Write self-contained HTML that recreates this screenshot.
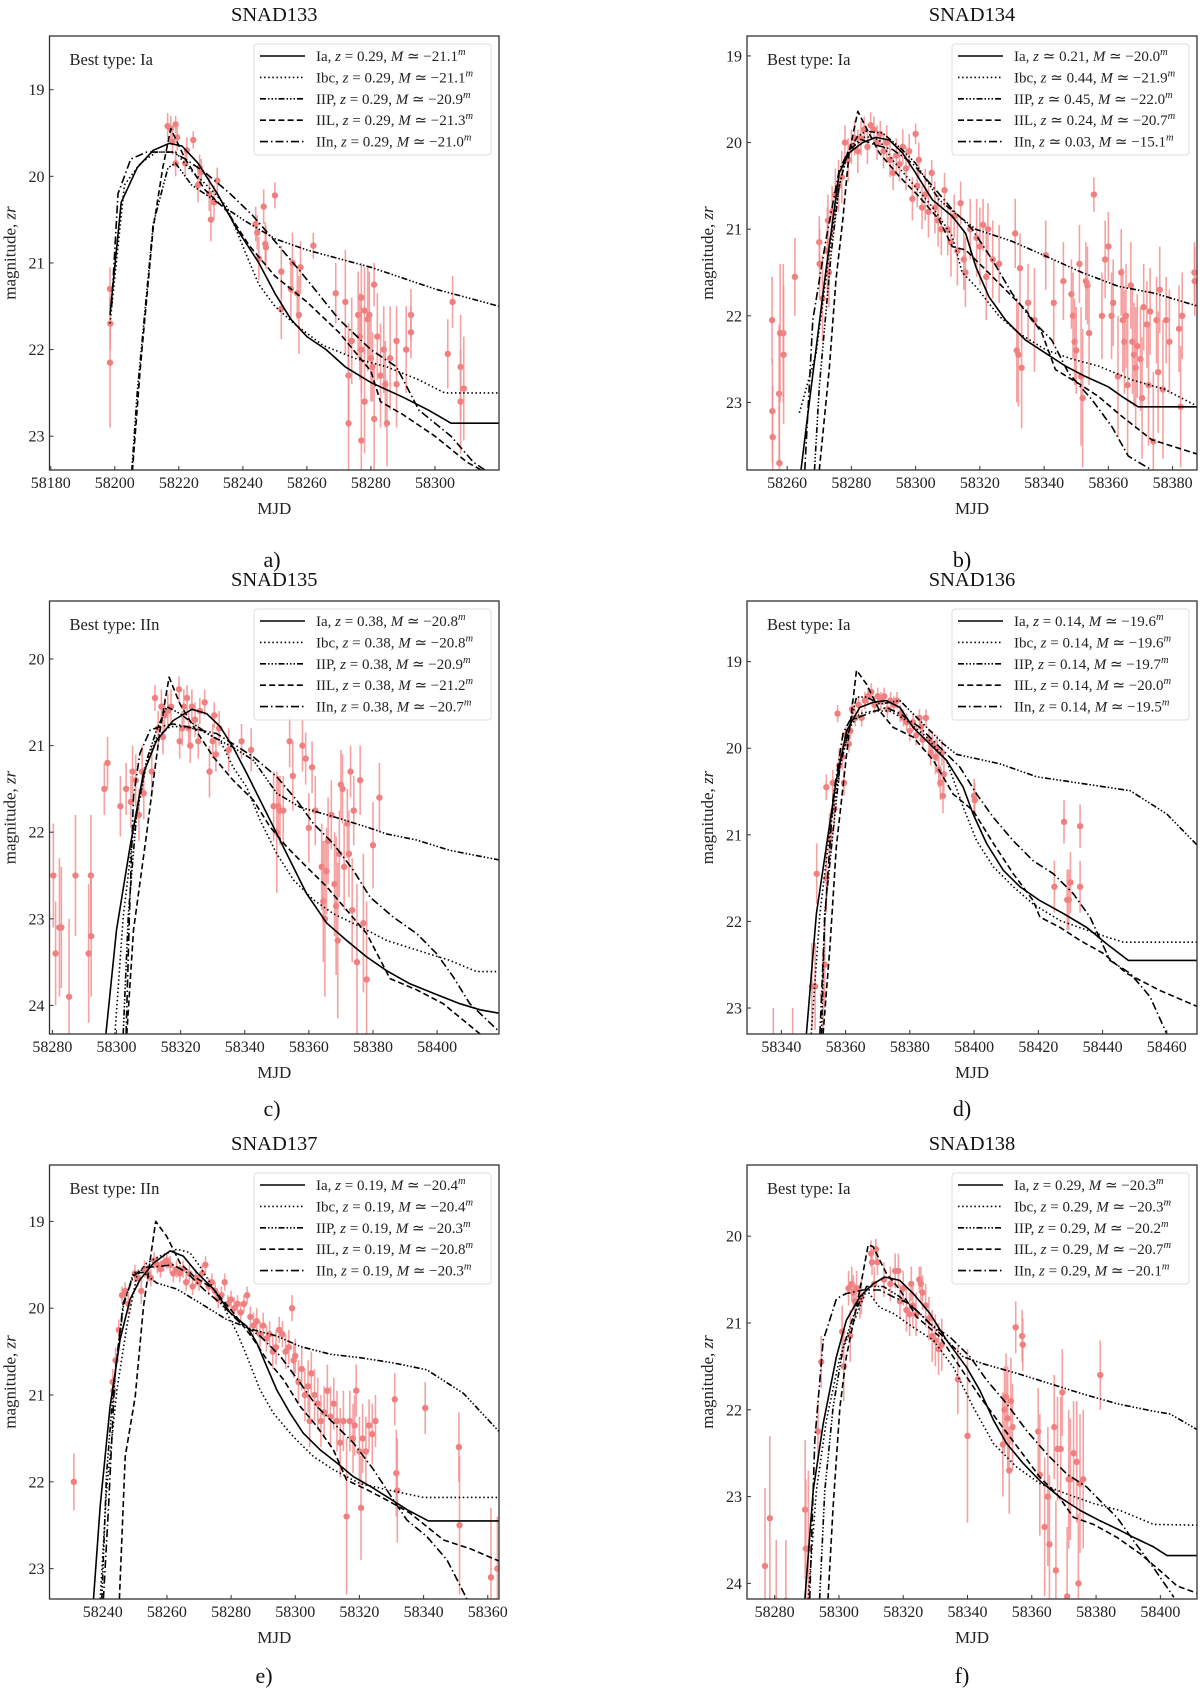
<!DOCTYPE html>
<html><head><meta charset="utf-8">
<style>
html,body{margin:0;padding:0;background:#fff;}
svg{display:block;font-family:"Liberation Serif",serif;}
</style></head>
<body>
<svg id="fig" width="1200" height="1688" viewBox="0 0 1200 1688" xmlns="http://www.w3.org/2000/svg"></svg>
<script>
// ---------- DATA ----------
const snad133_obs=[[58198.5,21.3,0.25],[58198.6,21.7,0.3],[58198.5,22.15,0.75],[58216.5,19.42,0.15],[58217.5,19.45,0.15],[58218,19.6,0.15],[58219,19.4,0.1],[58219,19.85,0.15],[58219.5,19.55,0.15],[58222,19.85,0.15],[58222.5,19.7,0.15],[58224.5,19.58,0.1],[58226,20.1,0.2],[58226.5,19.9,0.15],[58227,19.95,0.15],[58229.5,20.2,0.2],[58230,20.5,0.25],[58231,20.3,0.2],[58232,20.05,0.15],[58244,20.55,0.2],[58244.5,20.65,0.2],[58245,20.95,0.25],[58246.5,20.35,0.2],[58247,20.78,0.25],[58247.2,20.82,0.25],[58250,20.22,0.15],[58252,21.1,0.3],[58252,21.53,0.35],[58255,21.3,0.35],[58255.5,21.0,0.35],[58257,21.35,0.3],[58257.5,21.6,0.45],[58258,21.05,0.3],[58262,20.8,0.15],[58269,21.35,0.35],[58272,21.45,0.6],[58273,22.3,0.6],[58273,22.85,1],[58274,21.9,0.5],[58276,21.6,0.5],[58276.5,21.85,0.5],[58277,22.0,0.5],[58277,21.4,0.4],[58277,23.05,1],[58278,21.55,0.5],[58278,22.6,0.6],[58279,21.65,0.6],[58279.5,21.6,0.5],[58280,22.1,0.5],[58280.5,22.2,0.4],[58281,21.25,0.25],[58281,22.8,0.6],[58282,21.85,0.5],[58283,22.3,0.6],[58284,22.0,0.5],[58284.5,22.4,0.5],[58285,22.85,0.5],[58286,22.1,0.6],[58288,22.4,0.5],[58288,21.9,0.4],[58291,22.0,0.5],[58292.5,21.6,0.3],[58292.5,21.8,0.3],[58304,22.05,0.4],[58305.5,21.45,0.3],[58308,22.2,0.6],[58308,22.6,0.6],[58309,22.45,0.6]];
const snad133_Ia=[[58198.5,21.6],[58202,20.3],[58207,19.9],[58212,19.7],[58217,19.62],[58221,19.65],[58226,19.85],[58232,20.2],[58238,20.6],[58245,21.0],[58250,21.35],[58255,21.65],[58260,21.85],[58266,22.0],[58272,22.2],[58280,22.38],[58290,22.55],[58298,22.7],[58305,22.85],[58320,22.85]];
const snad133_Ibc=[[58198.5,21.7],[58203,20.1],[58208,19.85],[58213,19.72],[58219,19.72],[58223,19.9],[58230,20.15],[58235,20.35],[58241,20.9],[58245,21.25],[58250,21.5],[58256,21.7],[58265,21.95],[58275,22.1],[58285,22.2],[58295,22.35],[58303,22.5],[58320,22.5]];
const snad133_IIP=[[58205.3,23.4],[58207,22.5],[58212,20.55],[58216.6,19.9],[58219,19.85],[58224,20.1],[58230,20.25],[58240,20.5],[58250,20.72],[58260,20.85],[58280,21.05],[58300,21.3],[58315,21.45],[58320,21.5]];
const snad133_IIL=[[58205.5,23.4],[58208,22.2],[58212,20.6],[58215,19.9],[58217.5,19.45],[58222,19.8],[58228,20.15],[58235,20.4],[58242,20.8],[58250,21.15],[58260,21.45],[58270,21.8],[58280,22.25],[58283,22.6],[58290,22.75],[58300,23.0],[58310,23.3],[58315,23.4]];
const snad133_IIn=[[58199,21.5],[58201,20.2],[58205,19.8],[58210,19.72],[58218,19.72],[58222,19.8],[58228,19.95],[58236,20.2],[58243,20.45],[58250,20.75],[58258,21.1],[58270,21.65],[58280,22.0],[58288,22.2],[58295,22.7],[58305,23.0],[58312,23.3],[58316,23.4]];

const snad134_obs=[[58255.3,22.05,0.5],[58255.4,23.1,0.6],[58255.5,23.4,0.6],[58257.5,22.9,0.8],[58257.6,23.7,0.8],[58257.8,22.2,0.8],[58258.8,22.2,0.8],[58258.9,22.45,0.8],[58262.4,21.55,0.45],[58270,21.15,0.3],[58270.1,21.4,0.4],[58271,21.8,0.5],[58272.7,20.9,0.3],[58272.5,21.25,0.5],[58273,21.5,0.4],[58274,20.8,0.3],[58275,20.6,0.3],[58276,20.5,0.3],[58277,20.4,0.3],[58278,20.0,0.2],[58279,20.2,0.25],[58280,20.05,0.2],[58281,19.95,0.2],[58282,20.1,0.25],[58283,19.95,0.2],[58284,19.85,0.15],[58285,20.05,0.2],[58286,19.8,0.15],[58287,19.85,0.15],[58288,20.0,0.2],[58289,19.9,0.15],[58290,20.1,0.2],[58291,20.0,0.2],[58292,20.2,0.2],[58293,20.35,0.2],[58294,20.15,0.2],[58295,20.25,0.2],[58296,20.05,0.2],[58297,20.3,0.25],[58298,20.1,0.2],[58299,20.65,0.25],[58300,19.9,0.12],[58300.5,20.5,0.25],[58301,20.2,0.2],[58302,20.75,0.25],[58303,20.6,0.3],[58304,20.8,0.3],[58305,20.35,0.15],[58306,20.75,0.3],[58307,20.9,0.3],[58308,21.0,0.3],[58309,20.55,0.2],[58310,21.0,0.3],[58311,21.15,0.4],[58312,20.85,0.25],[58313,21.25,0.4],[58314,20.7,0.25],[58315,21.35,0.35],[58315.5,21.5,0.4],[58317,21.0,0.35],[58319,21.1,0.45],[58320,21.2,0.45],[58321,20.95,0.3],[58322,21.55,0.5],[58322.5,21.0,0.3],[58324,21.35,0.45],[58326,21.4,0.45],[58331,21.05,0.4],[58331.5,22.4,0.6],[58332,22.45,0.6],[58332.5,21.45,0.4],[58333,22.6,0.7],[58335,21.85,0.45],[58337,22.05,0.6],[58340.5,21.3,0.4],[58343,21.85,0.5],[58346,21.6,0.45],[58348.5,21.75,0.4],[58349,22.0,0.5],[58349.5,22.3,0.5],[58350,22.4,0.5],[58351,21.4,0.45],[58351.5,22.7,0.8],[58352,22.95,0.8],[58353,21.6,0.45],[58353.5,21.65,0.45],[58354,22.2,0.6],[58355.5,20.6,0.2],[58358,22.0,0.5],[58359,21.35,0.45],[58360,21.2,0.4],[58361,22.0,0.5],[58361.5,21.85,0.5],[58363,22.7,0.7],[58364,21.5,0.5],[58364.5,22.05,0.6],[58365,22.3,0.6],[58365.5,22.0,0.6],[58366,22.8,0.8],[58367,21.65,0.5],[58367.5,22.3,0.6],[58368,22.45,0.6],[58368.5,22.6,0.7],[58369,22.35,0.6],[58370,22.5,0.6],[58370.5,22.95,0.7],[58371,21.9,0.5],[58372,22.1,0.5],[58372.5,22.8,0.7],[58373,21.95,0.5],[58374,23.45,0.8],[58375,22.05,0.5],[58375.5,22.65,0.7],[58376,21.7,0.5],[58377,22.85,0.8],[58378,22.05,0.5],[58379,22.3,0.6],[58382,22.15,0.5],[58382.5,23.05,0.7],[58383,22.0,0.5],[58386.8,21.5,0.35],[58386.9,21.6,0.4]];
const snad134_Ia=[[58264.3,23.78],[58266.9,23.0],[58272.1,21.47],[58276.2,20.35],[58279.3,20.12],[58283.5,20.0],[58287.6,19.94],[58291.8,19.97],[58295.9,20.12],[58300,20.35],[58305.2,20.66],[58311.4,20.85],[58315.6,21.05],[58318.7,21.43],[58322.8,21.78],[58328,22.05],[58334.2,22.28],[58340.4,22.43],[58346.6,22.58],[58352.8,22.7],[58360,22.82],[58364.2,22.93],[58369.3,23.05],[58388,23.05]];
const snad134_Ibc=[[58263.8,23.12],[58269,22.43],[58273.1,21.28],[58276.2,20.5],[58278.3,20.2],[58281.4,20.0],[58284.5,19.93],[58288.7,19.97],[58292.8,20.2],[58299,20.47],[58305.2,20.74],[58311.4,21.08],[58314.5,21.5],[58318.7,21.66],[58325.9,22.0],[58332.1,22.2],[58340.4,22.39],[58348.7,22.5],[58356.9,22.58],[58367.3,22.74],[58377.6,22.85],[58388,23.05]];
const snad134_IIP=[[58268.5,23.78],[58270,22.82],[58273.7,21.28],[58276.2,20.5],[58278.8,20.12],[58281.9,19.93],[58284.5,19.87],[58289.7,19.89],[58294.9,20.05],[58300,20.24],[58307.3,20.66],[58313.5,20.85],[58318.7,21.0],[58330,21.14],[58340.4,21.31],[58351.8,21.5],[58363.2,21.66],[58374.5,21.74],[58388,21.89]];
const snad134_IIL=[[58270,23.78],[58273.1,22.62],[58275.2,21.58],[58277.3,20.9],[58279.3,20.12],[58282,19.64],[58284.5,19.82],[58288.7,20.12],[58294.9,20.39],[58301,20.62],[58307.3,20.89],[58311.4,21.2],[58315.6,21.24],[58321.8,21.47],[58328,21.7],[58334.2,21.93],[58339.3,22.2],[58343.5,22.62],[58350.7,22.78],[58356.9,22.93],[58364.2,23.16],[58373.5,23.43],[58388,23.6]];
const snad134_IIn=[[58265.5,23.78],[58268,22.05],[58272.1,21.12],[58276.2,20.32],[58279.3,20.08],[58283.5,19.97],[58287.6,20.03],[58292.8,20.08],[58299,20.24],[58305.2,20.5],[58311.4,20.77],[58317.6,21.0],[58323.8,21.35],[58330,21.74],[58336.2,22.05],[58342.4,22.28],[58347.6,22.66],[58354.9,22.97],[58361.1,23.28],[58366.2,23.62],[58373.5,23.78]];

const snad135_obs=[[58280.3,22.5,0.6],[58281,23.4,0.6],[58282.2,23.1,0.8],[58282.8,23.1,0.7],[58285.2,23.9,0.9],[58287.2,22.5,0.7],[58291.3,23.4,0.8],[58292,22.5,0.7],[58292.1,23.2,0.7],[58296.2,21.5,0.3],[58297.2,21.2,0.3],[58301.2,21.7,0.35],[58303,21.5,0.3],[58304.5,21.65,0.3],[58305,21.3,0.3],[58306,21.4,0.3],[58307,21.8,0.3],[58308,21.3,0.3],[58308.5,21.55,0.3],[58311,21.3,0.3],[58312,20.45,0.15],[58313,20.8,0.2],[58314,20.55,0.2],[58314.5,20.9,0.2],[58315,20.65,0.2],[58316,20.6,0.2],[58317,20.55,0.2],[58319.5,20.35,0.15],[58319.7,20.95,0.2],[58320.5,20.8,0.2],[58321,20.55,0.2],[58322,20.45,0.15],[58322.5,20.8,0.2],[58323,21.0,0.2],[58323.5,20.55,0.2],[58324.5,20.7,0.2],[58325.5,20.95,0.2],[58326,20.6,0.15],[58327.5,20.5,0.15],[58329,21.3,0.3],[58330,20.95,0.2],[58330.5,20.65,0.15],[58331,21.1,0.2],[58332,20.8,0.2],[58335,21.05,0.25],[58339,20.95,0.2],[58342,21.05,0.25],[58349,21.7,0.4],[58350,22.0,0.7],[58350.5,21.7,0.35],[58351,21.75,0.4],[58352,21.75,0.4],[58354,20.95,0.3],[58355,21.35,0.4],[58358,21.0,0.3],[58359,21.15,0.3],[58360,21.95,0.4],[58361,21.25,0.3],[58362,21.75,0.4],[58364,22.4,0.5],[58364.5,22.8,0.7],[58365,23.0,0.9],[58365.5,22.45,0.5],[58366,22.1,0.5],[58367,21.8,0.4],[58368,22.6,0.6],[58368.5,22.85,0.8],[58369,23.25,0.9],[58369.5,22.25,0.5],[58370,21.45,0.4],[58370.5,21.5,0.4],[58371,22.4,0.5],[58372,21.9,0.4],[58372.5,22.25,0.5],[58373,21.3,0.3],[58373.5,22.9,0.6],[58374,21.75,0.4],[58375,23.5,0.9],[58376,21.4,0.4],[58377,23.05,0.8],[58378,23.7,0.9],[58380,22.15,0.5],[58382,21.6,0.4]];
const snad135_Ia=[[58296.7,24.33],[58300,23.13],[58304.2,22.17],[58308.4,21.32],[58312.5,20.94],[58317.7,20.71],[58323.5,20.58],[58328.1,20.63],[58332.3,20.78],[58336.4,21.02],[58340.6,21.32],[58346.8,21.78],[58353.1,22.25],[58359.3,22.71],[58365.6,23.05],[58371.8,23.25],[58378,23.44],[58384.3,23.6],[58391.5,23.75],[58398.8,23.86],[58407.1,23.98],[58413.4,24.05],[58419.3,24.09]];
const snad135_Ibc=[[58299.5,24.33],[58302.1,22.98],[58305.3,21.98],[58309.4,21.21],[58312.5,20.9],[58316.7,20.78],[58320.9,20.78],[58326,20.82],[58332.3,20.94],[58336.4,21.25],[58340.6,21.48],[58344.8,21.86],[58350,22.25],[58355.2,22.55],[58361.4,22.78],[58367.6,22.94],[58375.9,23.09],[58384.3,23.25],[58393.6,23.36],[58404,23.48],[58412.3,23.61],[58419.3,23.61]];
const snad135_IIP=[[58302.1,24.33],[58303.7,22.94],[58306.3,21.78],[58309.4,21.17],[58312.5,20.82],[58315.7,20.55],[58319.8,20.63],[58324,20.75],[58330.2,20.9],[58336.4,21.02],[58342.7,21.17],[58350,21.55],[58357.2,21.71],[58367.6,21.82],[58378,21.94],[58384.3,22.02],[58393.6,22.09],[58404,22.21],[58419.3,22.32]];
const snad135_IIL=[[58303.2,24.33],[58305.3,23.13],[58309.4,22.02],[58311.5,21.4],[58313.6,20.82],[58316.4,20.21],[58319.8,20.52],[58324,20.78],[58330.2,21.13],[58336.4,21.4],[58342.7,21.63],[58347.9,21.94],[58353.1,22.17],[58359.3,22.4],[58365.6,22.63],[58371.8,22.9],[58378,23.17],[58385.3,23.69],[58393.6,23.82],[58401.9,23.98],[58413.4,24.33]];
const snad135_IIn=[[58303,24.33],[58304,23.0],[58305.3,21.59],[58307.3,21.09],[58310.5,20.82],[58313.6,20.78],[58317.7,20.75],[58321.9,20.78],[58326,20.82],[58331.2,20.86],[58336.4,20.98],[58342.7,21.13],[58350,21.36],[58356.2,21.63],[58361.4,21.9],[58367.6,22.13],[58373.9,22.44],[58379.1,22.75],[58386.3,22.98],[58393.6,23.17],[58399.8,23.4],[58405,23.67],[58410.2,23.98],[58419.3,24.3]];

const snad136_obs=[[58337.5,23.6,0.6],[58343.5,23.6,0.6],[58349.5,22.75,0.5],[58350.5,22.75,0.5],[58351,21.45,0.35],[58353,22.85,0.5],[58353.5,22.5,0.5],[58354,21.5,0.4],[58355,21.05,0.3],[58355.5,20.95,0.25],[58354,20.45,0.15],[58356,20.4,0.15],[58356.5,20.7,0.2],[58357.5,19.6,0.1],[58358,20.2,0.2],[58359,20.1,0.15],[58359.5,20.4,0.15],[58360,19.85,0.1],[58361,19.95,0.1],[58361.5,19.8,0.1],[58362,19.55,0.1],[58363,19.65,0.1],[58364,19.5,0.1],[58365,19.65,0.1],[58366,19.45,0.1],[58367,19.4,0.1],[58368,19.35,0.1],[58369,19.5,0.1],[58370,19.4,0.1],[58371,19.45,0.1],[58372,19.4,0.1],[58373,19.55,0.1],[58374,19.45,0.1],[58375,19.5,0.1],[58376,19.45,0.1],[58377,19.6,0.1],[58378,19.65,0.1],[58379,19.7,0.1],[58380,19.8,0.12],[58381,19.7,0.1],[58382,19.85,0.12],[58383,19.65,0.1],[58383.5,19.75,0.12],[58384,19.9,0.12],[58385,19.65,0.1],[58386,19.9,0.12],[58386.5,20.05,0.15],[58387,19.95,0.15],[58388,20.1,0.2],[58388.5,20.0,0.15],[58389,20.25,0.2],[58389.5,20.4,0.2],[58390,20.05,0.15],[58390.3,20.55,0.2],[58390.6,20.3,0.2],[58400,20.55,0.2],[58400.2,20.6,0.2],[58425,21.6,0.3],[58428,20.85,0.25],[58429,21.75,0.35],[58429.5,21.75,0.35],[58430,21.55,0.35],[58433,20.9,0.25],[58433,21.6,0.3]];
const snad136_Ia=[[58347.8,23.3],[58350.9,21.91],[58354,21.14],[58357.1,20.37],[58360.3,19.8],[58364.4,19.53],[58368.6,19.47],[58372.7,19.45],[58376.9,19.53],[58381,19.76],[58387.3,19.99],[58391.4,20.14],[58396.6,20.45],[58399.7,20.76],[58403.9,21.1],[58409.1,21.41],[58414.3,21.6],[58420.5,21.76],[58427.8,21.91],[58435.1,22.07],[58441.3,22.26],[58448,22.45],[58470,22.45]];
const snad136_Ibc=[[58349.3,23.3],[58352,21.91],[58355,20.99],[58358.2,20.22],[58361.3,19.76],[58364.4,19.6],[58368.6,19.57],[58373.8,19.57],[58379,19.68],[58385.2,19.87],[58391.4,20.14],[58396.6,20.68],[58400.8,21.07],[58406,21.37],[58412.2,21.6],[58418.4,21.8],[58426.8,21.99],[58435.1,22.1],[58441.3,22.18],[58446.5,22.24],[58470,22.24]];
const snad136_IIP=[[58352.5,23.3],[58353.5,21.91],[58355.6,21.14],[58358.2,20.22],[58363.4,19.41],[58366.5,19.41],[58370.6,19.49],[58376.9,19.45],[58383.1,19.68],[58390.4,19.95],[58394.5,20.07],[58408,20.18],[58419.5,20.33],[58434,20.41],[58448.6,20.49],[58460,20.76],[58470,21.14]];
const snad136_IIL=[[58353,23.3],[58355.1,22.3],[58357.1,21.14],[58360.3,20.07],[58361.8,19.6],[58363.4,19.1],[58366.5,19.26],[58370.6,19.57],[58374.8,19.76],[58381,19.87],[58387.3,20.14],[58393.5,20.53],[58399.7,20.72],[58406,21.1],[58412.2,21.45],[58418.4,21.76],[58420.5,21.95],[58426.8,22.07],[58433,22.22],[58440.3,22.37],[58447.5,22.6],[58458,22.8],[58470,22.99]];
const snad136_IIn=[[58352,23.3],[58353.5,22.0],[58356.1,20.57],[58359.2,19.83],[58361.3,19.68],[58368.6,19.58],[58372.7,19.53],[58376.9,19.6],[58383.1,19.76],[58389.4,19.99],[58395.6,20.22],[58400.8,20.53],[58406,20.8],[58412.2,21.07],[58418.4,21.3],[58424.7,21.45],[58430.9,21.68],[58436.1,21.95],[58442.3,22.45],[58448.6,22.6],[58454.8,22.87],[58460,23.3]];

const snad137_obs=[[58231,22.0,0.33],[58243.1,20.85,0.15],[58243.3,20.95,0.15],[58244,20.6,0.15],[58245,20.25,0.12],[58246,19.85,0.1],[58247,19.8,0.1],[58248,19.95,0.12],[58250,19.6,0.1],[58251,19.65,0.1],[58252,19.8,0.15],[58253,19.55,0.1],[58254,19.6,0.1],[58255,19.65,0.1],[58256,19.45,0.1],[58257,19.5,0.1],[58258,19.55,0.1],[58259,19.48,0.1],[58260,19.45,0.1],[58261,19.5,0.1],[58262,19.6,0.1],[58263,19.55,0.1],[58264,19.6,0.1],[58265,19.55,0.1],[58266,19.7,0.1],[58267,19.6,0.1],[58268,19.75,0.1],[58269,19.65,0.1],[58270,19.7,0.1],[58271,19.6,0.1],[58272,19.5,0.1],[58273,19.75,0.1],[58274,19.7,0.1],[58275,19.8,0.1],[58276,19.9,0.1],[58277,19.85,0.1],[58278,19.7,0.1],[58279,19.95,0.1],[58280,19.9,0.1],[58281,20.0,0.12],[58282,19.95,0.1],[58283,20.05,0.12],[58284,19.95,0.1],[58285,19.85,0.1],[58286,20.1,0.12],[58287,20.2,0.15],[58288,20.15,0.15],[58289,20.3,0.15],[58290,20.2,0.15],[58291,20.35,0.15],[58292,20.3,0.15],[58293,20.5,0.2],[58294,20.45,0.2],[58295,20.25,0.15],[58296,20.3,0.15],[58297,20.5,0.2],[58298,20.45,0.2],[58299,20.0,0.15],[58299.5,20.6,0.2],[58300,20.55,0.2],[58301,20.85,0.25],[58302,20.7,0.25],[58303,21.0,0.3],[58304,20.9,0.3],[58304.5,21.3,0.3],[58305,20.75,0.25],[58306,21.0,0.3],[58307,21.1,0.3],[58308,21.3,0.3],[58309,21.2,0.3],[58310,20.95,0.3],[58311,21.25,0.35],[58312,21.1,0.3],[58313,21.3,0.35],[58314,21.55,0.4],[58315,21.3,0.35],[58316,22.4,0.9],[58317,21.3,0.35],[58318,21.5,0.4],[58318.5,21.35,0.35],[58319,20.95,0.3],[58320,21.65,0.4],[58320.5,22.3,0.6],[58321,21.5,0.4],[58322,21.65,0.4],[58323,21.35,0.3],[58324,21.45,0.35],[58325,21.3,0.3],[58331,21.05,0.3],[58331.5,21.9,0.5],[58331.8,22.1,0.6],[58340.5,21.15,0.3],[58351,21.6,0.4],[58351.2,22.5,0.8],[58361,23.1,0.8],[58363,23.0,0.6]];
const snad137_Ia=[[58237.1,23.35],[58239.2,22.28],[58242.3,21.13],[58245.4,20.36],[58248.5,19.9],[58251.6,19.67],[58255.8,19.48],[58261,19.34],[58265.1,19.4],[58269.3,19.59],[58274.5,19.78],[58279.7,20.05],[58284.9,20.21],[58288,20.4],[58291.1,20.67],[58294.2,20.94],[58298.4,21.21],[58302.5,21.44],[58307.7,21.63],[58312.9,21.78],[58318.1,21.94],[58323.3,22.05],[58328.5,22.17],[58334.8,22.32],[58341.5,22.45],[58364,22.45]];
const snad137_Ibc=[[58239.2,23.35],[58241.2,22.09],[58244.4,20.94],[58247.5,20.21],[58250.6,19.63],[58253.7,19.48],[58257.9,19.4],[58263.1,19.32],[58267.2,19.36],[58270.3,19.52],[58273.5,19.71],[58277.6,19.98],[58281.8,20.28],[58284.9,20.55],[58289,20.94],[58293.2,21.21],[58299.4,21.48],[58305.7,21.71],[58311.9,21.86],[58320.2,22.02],[58328.5,22.09],[58339.9,22.18],[58364,22.18]];
const snad137_IIP=[[58239.7,23.35],[58241.2,21.9],[58243.3,20.94],[58246.4,19.98],[58249.6,19.59],[58252.7,19.59],[58256.8,19.71],[58263.1,19.78],[58270.3,19.94],[58278.6,20.13],[58287,20.25],[58294.2,20.32],[58301.5,20.44],[58310.9,20.53],[58320.2,20.57],[58330.6,20.63],[58341,20.71],[58352.4,20.98],[58364,21.44]];
const snad137_IIL=[[58245.2,23.35],[58247,21.71],[58250.1,21.02],[58252.7,19.98],[58256.5,19.0],[58259.9,19.17],[58264.1,19.48],[58268.3,19.63],[58274.5,19.78],[58280.7,20.05],[58287,20.36],[58291.1,20.59],[58296.3,20.82],[58301.5,21.13],[58306.7,21.36],[58311.9,21.63],[58316,21.98],[58322.3,22.09],[58328.5,22.21],[58335.8,22.36],[58346.2,22.67],[58354.5,22.77],[58364,22.92]];
const snad137_IIn=[[58240.2,23.35],[58241.8,22.3],[58243.8,20.75],[58246.4,19.94],[58249.6,19.63],[58252.7,19.53],[58256.8,19.52],[58262,19.5],[58266.2,19.59],[58271.4,19.78],[58276.6,19.94],[58282.8,20.17],[58289,20.32],[58295.3,20.55],[58301.5,20.86],[58306.7,21.13],[58312.9,21.36],[58318.1,21.55],[58324.4,21.86],[58330.6,22.21],[58334.8,22.44],[58341,22.63],[58347.3,22.9],[58353.5,23.35]];

const snad138_obs=[[58277,23.8,0.9],[58278.5,23.25,0.95],[58280.5,24.2,0.7],[58283.5,24.2,0.7],[58289.5,23.15,0.8],[58289.7,23.6,0.8],[58290.5,23.6,0.9],[58293.5,22.25,0.35],[58294.5,21.45,0.3],[58301,21.1,0.3],[58301.5,21.5,0.4],[58303,20.6,0.2],[58303.5,21.15,0.3],[58304,20.55,0.2],[58304.5,20.65,0.2],[58305,20.75,0.2],[58305.5,20.6,0.2],[58306.5,20.75,0.2],[58307,20.7,0.2],[58310,20.2,0.15],[58310.3,20.3,0.15],[58311,20.55,0.2],[58311.5,20.15,0.12],[58312,20.3,0.15],[58314,20.5,0.2],[58316,20.55,0.2],[58317.5,20.4,0.2],[58318.5,20.4,0.2],[58319,20.75,0.2],[58320,20.6,0.2],[58321,20.85,0.25],[58322,20.9,0.25],[58322.5,20.55,0.2],[58323,20.8,0.25],[58324,20.9,0.25],[58325,20.5,0.15],[58325.5,20.55,0.2],[58326,20.65,0.2],[58327,20.8,0.25],[58328,20.95,0.25],[58329,21.15,0.3],[58330,21.2,0.3],[58331,21.3,0.3],[58332,21.25,0.3],[58337,21.65,0.4],[58340,22.3,1.0],[58351,22.4,0.6],[58351.5,22.0,0.5],[58352,21.85,0.5],[58352.5,22.1,0.6],[58353,22.7,0.5],[58354,22.2,0.5],[58353.5,21.9,0.5],[58355,21.05,0.3],[58357,21.15,0.3],[58357.2,21.25,0.3],[58362,22.25,0.5],[58362.5,22.75,0.7],[58364,23.35,0.8],[58365,23.0,0.8],[58365.5,23.55,0.8],[58367,22.2,0.6],[58367.5,23.85,0.8],[58368,22.45,0.6],[58369,22.45,0.6],[58369.5,21.8,0.5],[58371,24.15,0.8],[58371.5,22.8,0.8],[58372,22.8,0.7],[58373,22.5,0.6],[58374,22.6,0.7],[58374.5,24.0,0.8],[58375,22.85,0.8],[58376,22.8,0.8],[58381.3,21.6,0.4]];
const snad138_Ia=[[58289.4,24.18],[58292,22.93],[58295.1,22.16],[58299.2,21.39],[58302.3,20.97],[58306.5,20.7],[58310.6,20.55],[58314.3,20.47],[58318.9,20.51],[58323.1,20.66],[58328.3,20.89],[58333.5,21.2],[58339.7,21.51],[58343.9,21.78],[58348.1,22.12],[58352.2,22.39],[58357.4,22.62],[58362.6,22.82],[58368.8,23.01],[58375.1,23.16],[58381.3,23.28],[58387.5,23.39],[58391.7,23.47],[58397.9,23.58],[58402.1,23.68],[58412,23.68]];
const snad138_Ibc=[[58290.4,24.18],[58293,22.93],[58296.1,22.12],[58300.3,21.39],[58304.4,21.01],[58308.6,20.62],[58312.7,20.82],[58316.9,20.89],[58323.1,21.05],[58329.4,21.2],[58335.6,21.51],[58341.8,21.97],[58348.1,22.39],[58355.3,22.66],[58362.6,22.85],[58370.9,22.97],[58379.2,23.08],[58387.5,23.16],[58397.9,23.32],[58412,23.33]];
const snad138_IIP=[[58294,24.18],[58295.6,22.93],[58298.2,21.97],[58301.3,21.28],[58304.4,20.93],[58308.6,20.58],[58313.8,20.58],[58319,20.7],[58325.2,20.89],[58331.4,21.12],[58338.7,21.39],[58344.9,21.47],[58355.3,21.58],[58365.7,21.7],[58376.1,21.82],[58386.5,21.93],[58396.9,22.01],[58403.1,22.05],[58412,22.24]];
const snad138_IIL=[[58296.6,24.18],[58298.2,23.12],[58300.3,21.97],[58302.3,21.39],[58304.4,21.01],[58306.5,20.62],[58309.1,20.1],[58310.6,20.12],[58314.8,20.43],[58319,20.62],[58324.2,20.93],[58331.4,21.16],[58337.7,21.51],[58343.9,21.85],[58350.1,22.16],[58356.4,22.47],[58362.6,22.78],[58367.8,22.97],[58373,23.24],[58379.2,23.32],[58386.5,23.47],[58393.8,23.66],[58401,23.89],[58405.2,24.03],[58412,24.12]];
const snad138_IIn=[[58290.9,24.18],[58292.5,22.35],[58295.1,21.2],[58297.1,20.97],[58299.2,20.72],[58302.3,20.66],[58307.5,20.62],[58312.7,20.62],[58316.9,20.7],[58322.1,20.78],[58328.3,21.01],[58334.5,21.16],[58340.8,21.39],[58346,21.66],[58352.2,21.93],[58358.4,22.24],[58364.7,22.51],[58370.9,22.74],[58377.1,22.89],[58381.3,23.05],[58386.5,23.24],[58391.7,23.51],[58397.9,23.82],[58404.2,24.16]];

const legend133=[["0.29","=","21.1"],["0.29","=","21.1"],["0.29","=","20.9"],["0.29","=","21.3"],["0.29","=","21.0"]];
const legend134=[["0.21","≃","20.0"],["0.44","≃","21.9"],["0.45","≃","22.0"],["0.24","≃","20.7"],["0.03","≃","15.1"]];
const legend135=[["0.38","=","20.8"],["0.38","=","20.8"],["0.38","=","20.9"],["0.38","=","21.2"],["0.38","=","20.7"]];
const legend136=[["0.14","=","19.6"],["0.14","=","19.6"],["0.14","=","19.7"],["0.14","=","20.0"],["0.14","=","19.5"]];
const legend137=[["0.19","=","20.4"],["0.19","=","20.4"],["0.19","=","20.3"],["0.19","=","20.8"],["0.19","=","20.3"]];
const legend138=[["0.29","=","20.3"],["0.29","=","20.3"],["0.29","=","20.2"],["0.29","=","20.7"],["0.29","=","20.1"]];

const xticks133=[58180,58200,58220,58240,58260,58280,58300];
const xticks134=[58260,58280,58300,58320,58340,58360,58380];
const xticks135=[58280,58300,58320,58340,58360,58380,58400];
const xticks136=[58340,58360,58380,58400,58420,58440,58460];
const xticks137=[58240,58260,58280,58300,58320,58340,58360];
const xticks138=[58280,58300,58320,58340,58360,58380,58400];
const yticks133=[19,20,21,22,23];
const yticks134=[19,20,21,22,23];
const yticks135=[20,21,22,23,24];
const yticks136=[19,20,21,22,23];
const yticks137=[19,20,21,22,23];
const yticks138=[20,21,22,23,24];

// ---------- LAYOUT ----------
const NS="http://www.w3.org/2000/svg";
const svg=document.getElementById('fig');
function mk(tag,attrs,parent){const e=document.createElementNS(NS,tag);for(const k in attrs)e.setAttribute(k,attrs[k]);(parent||svg).appendChild(e);return e;}
const TYPES=["Ia","Ibc","IIP","IIL","IIn"];
const DASH={"Ia":"","Ibc":"1.5,2.6","IIP":"6,2,1.5,2,1.5,2,1.5,2","IIL":"6,3.2","IIn":"8,3,1.5,3"};
const panels=[
 {id:"snad133",title:"SNAD133",sub:"a)",best:"Ia",x0:49.5,x1:499,y0:36,y1:470,xmin:58179.6,xmax:58320,ymin:18.38,ymax:23.39,obs:snad133_obs,cur:[snad133_Ia,snad133_Ibc,snad133_IIP,snad133_IIL,snad133_IIn],leg:legend133,xt:xticks133,yt:yticks133,subY:567,subX:272},
 {id:"snad134",title:"SNAD134",sub:"b)",best:"Ia",x0:747,x1:1197,y0:36,y1:470,xmin:58247.5,xmax:58387.6,ymin:18.77,ymax:23.78,obs:snad134_obs,cur:[snad134_Ia,snad134_Ibc,snad134_IIP,snad134_IIL,snad134_IIn],leg:legend134,xt:xticks134,yt:yticks134,subY:567,subX:962},
 {id:"snad135",title:"SNAD135",sub:"c)",best:"IIn",x0:49.5,x1:499,y0:601,y1:1034,xmin:58279.1,xmax:58419.3,ymin:19.33,ymax:24.33,obs:snad135_obs,cur:[snad135_Ia,snad135_Ibc,snad135_IIP,snad135_IIL,snad135_IIn],leg:legend135,xt:xticks135,yt:yticks135,subY:1116,subX:272},
 {id:"snad136",title:"SNAD136",sub:"d)",best:"Ia",x0:747,x1:1197,y0:601,y1:1034,xmin:58329.3,xmax:58469.4,ymin:18.30,ymax:23.30,obs:snad136_obs,cur:[snad136_Ia,snad136_Ibc,snad136_IIP,snad136_IIL,snad136_IIn],leg:legend136,xt:xticks136,yt:yticks136,subY:1116,subX:962},
 {id:"snad137",title:"SNAD137",sub:"e)",best:"IIn",x0:49.5,x1:499,y0:1165,y1:1599,xmin:58223.4,xmax:58363.5,ymin:18.35,ymax:23.35,obs:snad137_obs,cur:[snad137_Ia,snad137_Ibc,snad137_IIP,snad137_IIL,snad137_IIn],leg:legend137,xt:xticks137,yt:yticks137,subY:1683,subX:264},
 {id:"snad138",title:"SNAD138",sub:"f)",best:"Ia",x0:747,x1:1197,y0:1165,y1:1599,xmin:58271.4,xmax:58411.4,ymin:19.18,ymax:24.18,obs:snad138_obs,cur:[snad138_Ia,snad138_Ibc,snad138_IIP,snad138_IIL,snad138_IIn],leg:legend138,xt:xticks138,yt:yticks138,subY:1683,subX:962}
];

const defs=mk('defs',{});
panels.forEach(p=>{
  const xs=v=>p.x0+(v-p.xmin)/(p.xmax-p.xmin)*(p.x1-p.x0);
  const ys=v=>p.y0+(v-p.ymin)/(p.ymax-p.ymin)*(p.y1-p.y0);
  const cx=(p.x0+p.x1)/2, cy=(p.y0+p.y1)/2;
  const g=mk('g',{});
  
  
  const cp=mk('clipPath',{id:'clip-'+p.id},defs);
  mk('rect',{x:p.x0,y:p.y0,width:p.x1-p.x0,height:p.y1-p.y0},cp);

  const t=mk('text',{x:cx,y:p.y0-15,'text-anchor':'middle','font-size':20.5,fill:'#111'},g);
  t.textContent=p.title;
  
  

  const dg=mk('g',{'clip-path':'url(#clip-'+p.id+')'},g);
  
  
  p.obs.forEach(o=>{
    const l=mk('line',{x1:xs(o[0]),x2:xs(o[0]),y1:ys(o[1]-o[2]),y2:ys(o[1]+o[2]),stroke:'#f28b8b','stroke-width':1.6,'stroke-opacity':0.8},dg);
    
    
    const c=mk('circle',{cx:xs(o[0]),cy:ys(o[1]),r:3.2,fill:'#f08080'},dg);
    
    
  });
  const cg=mk('g',{'clip-path':'url(#clip-'+p.id+')'},g);
  p.cur.forEach((arr,i)=>{
    const d=arr.map((q,j)=>(j?'L':'M')+xs(q[0]).toFixed(1)+','+ys(q[1]).toFixed(1)).join(' ');
    const a={d:d,fill:'none',stroke:'#000','stroke-width':1.6,'stroke-linejoin':'round'};
    if(DASH[TYPES[i]])a['stroke-dasharray']=DASH[TYPES[i]];
    const path=mk('path',a,cg);
    
    
  });
  const fr=mk('rect',{x:p.x0,y:p.y0,width:p.x1-p.x0,height:p.y1-p.y0,fill:'none',stroke:'#333','stroke-width':1.3},g);
  
  
  p.xt.forEach(v=>{
    const x=xs(v);
    mk('line',{x1:x,x2:x,y1:p.y1,y2:p.y1-4,stroke:'#333','stroke-width':1},g);
    const tl=mk('text',{x:x,y:p.y1+18,'text-anchor':'middle','font-size':16,fill:'#222'},g);
    tl.textContent=v;
    
    
  });
  p.yt.forEach(v=>{
    const y=ys(v);
    mk('line',{x1:p.x0,x2:p.x0+4,y1:y,y2:y,stroke:'#333','stroke-width':1},g);
    const tl=mk('text',{x:p.x0-5,y:y+5.5,'text-anchor':'end','font-size':16,fill:'#222'},g);
    tl.textContent=v;
    
    
  });
  const xl=mk('text',{x:cx,y:p.y1+44,'text-anchor':'middle','font-size':17,fill:'#222'},g);
  xl.textContent='MJD';
  
  
  const yl=mk('text',{x:0,y:0,'text-anchor':'middle','font-size':17,fill:'#222',transform:'translate('+(p.x0-34)+','+cy+') rotate(-90)'},g);
  yl.innerHTML='magnitude, <tspan font-style="italic">zr</tspan>';
  
  
  const bt=mk('text',{x:p.x0+20,y:p.y0+29,'font-size':16.5,fill:'#222'},g);
  bt.textContent='Best type: '+p.best;
  
  
  const lx=p.x1-8-237, ly=p.y0+8;
  const lg=mk('g',{},g);
  
  
  mk('rect',{x:lx,y:ly,width:237,height:111,rx:3,fill:'#fff','fill-opacity':0.85,stroke:'#ddd','stroke-width':1},lg);
  p.leg.forEach((r,i)=>{
    const yy=ly+12+i*21.4;
    const a={x1:lx+6,x2:lx+51,y1:yy,y2:yy,stroke:'#000','stroke-width':1.6};
    if(DASH[TYPES[i]])a['stroke-dasharray']=DASH[TYPES[i]];
    mk('line',a,lg);
    const tx=mk('text',{x:lx+62,y:yy+5,'font-size':15,fill:'#222'},lg);
    tx.innerHTML=TYPES[i]+', <tspan font-style="italic">z</tspan> '+r[1]+' '+r[0]+', <tspan font-style="italic">M</tspan> ≃ −'+r[2]+'<tspan dy="-6" font-size="10.5" font-style="italic">m</tspan>';
    
    
  });
  const sl=mk('text',{x:p.subX,y:p.subY,'text-anchor':'middle','font-size':22,fill:'#111'},g);
  sl.textContent=p.sub;
  
  
});
</script>
</body></html>
